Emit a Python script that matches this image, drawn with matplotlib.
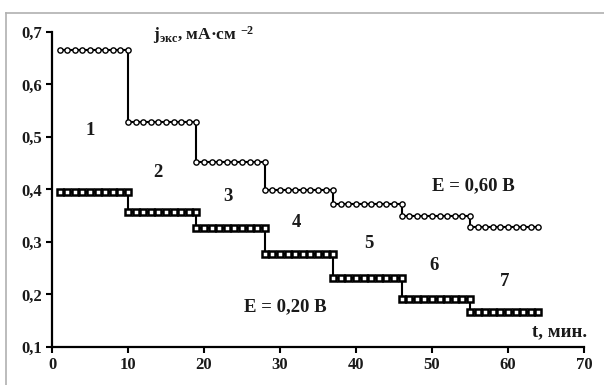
import matplotlib
matplotlib.use("Agg")
import matplotlib.pyplot as plt
from matplotlib.lines import Line2D
from matplotlib.ticker import FuncFormatter

plt.rcParams["font.family"] = ["Liberation Serif", "DejaVu Serif"]
plt.rcParams["font.weight"] = "bold"
plt.rcParams["mathtext.fontset"] = "custom"
plt.rcParams["mathtext.rm"] = "Liberation Serif:bold"
plt.rcParams["mathtext.it"] = "Liberation Serif:bold"
plt.rcParams["mathtext.bf"] = "Liberation Serif:bold"

# step start times (min); each stage holds 10 readings, 1 min apart
STAGE_START = [1, 10, 19, 28, 37, 46, 55]
POINTS_PER_STAGE = 10
# current density levels per stage, mA/cm^2
J_060 = [0.665, 0.529, 0.452, 0.399, 0.372, 0.350, 0.329]
J_020 = [0.396, 0.358, 0.327, 0.277, 0.231, 0.191, 0.167]
STAGE_LABELS = ["1", "2", "3", "4", "5", "6", "7"]
STAGE_LABEL_POS = [(5.0, 0.513), (13.9, 0.433), (23.2, 0.386), (32.2, 0.338),
                   (41.7, 0.298), (50.3, 0.256), (59.6, 0.224)]
X_TICKS = [0, 10, 20, 30, 40, 50, 60, 70]
Y_TICKS = [0.1, 0.2, 0.3, 0.4, 0.5, 0.6, 0.7]


def stepped(levels):
    xs, ys = [], []
    for start, lvl in zip(STAGE_START, levels):
        for k in range(POINTS_PER_STAGE):
            xs.append(start + k)
            ys.append(lvl)
    return xs, ys


fig = plt.figure(figsize=(6.04, 3.85), dpi=100)
ax = fig.add_axes([0.0861, 0.0987, 0.8808, 0.8182])

# thin grey frame around the picture (top and left edges visible)
fig.add_artist(Line2D([6 / 604, 6 / 604], [0, 1 - 13 / 385],
                      transform=fig.transFigure, color="#b0b0b0", lw=1.2))
fig.add_artist(Line2D([6 / 604, 1], [1 - 13 / 385, 1 - 13 / 385],
                      transform=fig.transFigure, color="#b0b0b0", lw=1.2))

x1, y1 = stepped(J_060)
ax.plot(x1, y1, color="black", lw=1.5, marker="o", ms=3.8,
        mfc="white", mec="black", mew=1.0)
x2, y2 = stepped(J_020)
ax.plot(x2, y2, color="black", lw=1.5, marker="s", ms=4.6,
        mfc="white", mec="black", mew=1.8)

ink = "#1a1a1a"
for lab, (tx, ty) in zip(STAGE_LABELS, STAGE_LABEL_POS):
    ax.text(tx, ty, lab, fontsize=13.5, ha="center", va="center", color=ink)

ax.text(55.4, 0.407, "E = 0,60 B", fontsize=13.5, ha="center", va="center", color=ink)
ax.text(30.7, 0.176, "E = 0,20 B", fontsize=13.5, ha="center", va="center", color=ink)
ax.text(66.8, 0.130, "t, мин.", fontsize=13.5, ha="center", va="center", color=ink)
ax.text(20.0, 0.695, r"$\mathregular{j_{экс}}$, мА·см $^{\mathregular{-2}}$",
        fontsize=12.5, ha="center", va="center", color=ink)

ax.set_xlim(0, 70)
ax.set_ylim(0.1, 0.7)
ax.set_xticks(X_TICKS)
ax.set_yticks(Y_TICKS)
ax.yaxis.set_major_formatter(FuncFormatter(lambda v, p: f"{v:.1f}".replace(".", ",")))
ax.tick_params(direction="out", length=4, width=1.5, labelsize=12,
               colors="black", labelcolor=ink, pad=3)
for lbl in ax.get_xticklabels() + ax.get_yticklabels():
    lbl.set_fontweight("bold")
for s in ("top", "right"):
    ax.spines[s].set_visible(False)
for s in ("left", "bottom"):
    ax.spines[s].set_linewidth(1.6)

fig.savefig("out.png", dpi=100)
